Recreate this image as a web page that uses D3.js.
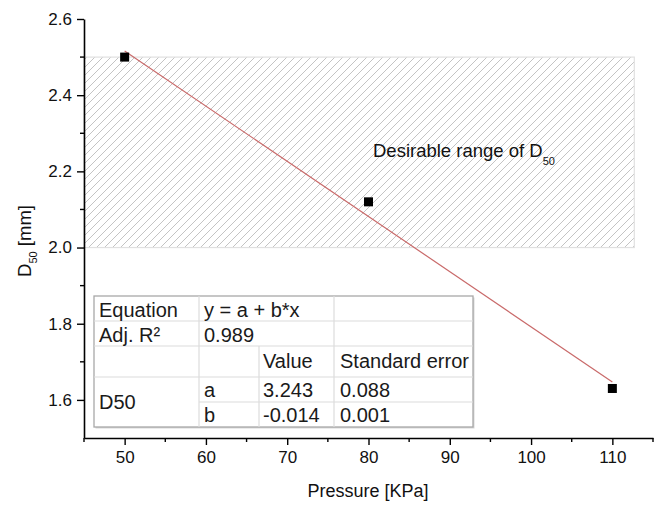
<!DOCTYPE html>
<html>
<head>
<meta charset="utf-8">
<script src="https://cdn.jsdelivr.net/npm/d3@7"></script>
<style>
  html, body { margin: 0; padding: 0; background: #fff; }
  svg { display: block; font-family: Arial, "Liberation Sans", sans-serif; }
</style>
</head>
<body>
<svg id="chart" width="659" height="509"></svg>
<script>
// ---- data ----
const pressure = [50, 80, 110];
const d50 = [2.5, 2.12, 1.63];
const fitX = [50, 110];
const fitY = [2.516, 1.647];
const desirableY = [2.0, 2.5];
const desirableX = [45, 112.7];
const xTicks = [50, 60, 70, 80, 90, 100, 110];
const xMinorTicks = [45, 55, 65, 75, 85, 95, 105, 115];
const yTicks = [1.6, 1.8, 2.0, 2.2, 2.4, 2.6];
const yMinorTicks = [1.7, 1.9, 2.1, 2.3, 2.5];
const tableRow1 = ["Equation", "y = a + b*x"];
const tableRow2 = ["Adj. R²", "0.989"];
const tableHeader = ["Value", "Standard error"];
const tableParams = ["a", "b"];
const tableValues = ["3.243", "-0.014"];
const tableErrors = ["0.088", "0.001"];
const tableGroup = "D50";

// ---- layout ----
const svg = d3.select("#chart");
const x = d3.scaleLinear().domain([45, 115]).range([84, 653]);
const y = d3.scaleLinear().domain([1.5, 2.6]).range([438, 19]);

// hatch pattern
const defs = svg.append("defs");
const pat = defs.append("pattern")
  .attr("id", "hatch").attr("patternUnits", "userSpaceOnUse")
  .attr("width", 8).attr("height", 8);
pat.append("path")
  .attr("d", "M-2,2 l4,-4 M0,8 l8,-8 M6,10 l4,-4")
  .attr("stroke", "#c4c4c4").attr("stroke-width", 1);

// desirable range box
svg.append("rect")
  .attr("x", x(desirableX[0])).attr("y", y(desirableY[1]))
  .attr("width", x(desirableX[1]) - x(desirableX[0]))
  .attr("height", y(desirableY[0]) - y(desirableY[1]))
  .attr("fill", "url(#hatch)").attr("stroke", "#e0e0e0").attr("stroke-width", 1.2);

// annotation text
const ann = svg.append("text").attr("x", 373).attr("y", 157)
  .attr("font-size", 18.5).attr("fill", "#111");
ann.append("tspan").text("Desirable range of D");
ann.append("tspan").attr("dy", 8).attr("font-size", 11).text("50");

// fit line
svg.append("line")
  .attr("x1", x(fitX[0])).attr("y1", y(fitY[0]))
  .attr("x2", x(fitX[1])).attr("y2", y(fitY[1]))
  .attr("stroke", "#c96a6a").attr("stroke-width", 1.2);

// points
svg.selectAll("rect.pt").data(pressure).join("rect")
  .attr("class", "pt")
  .attr("x", (d) => x(d) - 4.5)
  .attr("y", (d, i) => y(d50[i]) - 4.5)
  .attr("width", 9).attr("height", 9).attr("fill", "#000");

// axes
const xAxis = d3.axisBottom(x).tickValues(xTicks).tickFormat(d3.format("d"))
  .tickSize(7).tickSizeOuter(0).tickPadding(6);
const gx = svg.append("g").attr("transform", `translate(0,${y(1.5)})`).call(xAxis);
gx.selectAll("text").attr("font-size", 17).attr("fill", "#111");
gx.select(".domain").attr("stroke-width", 1.6);
gx.selectAll(".tick line").attr("stroke-width", 1.4);
gx.selectAll("line.minor").data(xMinorTicks).join("line").attr("class", "minor")
  .attr("x1", (d) => x(d)).attr("x2", (d) => x(d)).attr("y1", 0).attr("y2", 4)
  .attr("stroke", "#000").attr("stroke-width", 1.4);

const yAxis = d3.axisLeft(y).tickValues(yTicks).tickFormat(d3.format(".1f"))
  .tickSize(7).tickSizeOuter(0).tickPadding(5);
const gy = svg.append("g").attr("transform", `translate(${x(45)},0)`).call(yAxis);
gy.selectAll("text").attr("font-size", 17).attr("fill", "#111");
gy.select(".domain").attr("stroke-width", 1.6);
gy.selectAll(".tick line").attr("stroke-width", 1.4);
gy.selectAll("line.minor").data(yMinorTicks).join("line").attr("class", "minor")
  .attr("y1", (d) => y(d)).attr("y2", (d) => y(d)).attr("x1", 0).attr("x2", -4)
  .attr("stroke", "#000").attr("stroke-width", 1.4);

// axis titles
svg.append("text").attr("x", 368).attr("y", 497).attr("text-anchor", "middle")
  .attr("font-size", 18).attr("fill", "#111").text("Pressure [KPa]");
const yl = svg.append("text")
  .attr("transform", "translate(31,241) rotate(-90)")
  .attr("text-anchor", "middle").attr("font-size", 18.5).attr("fill", "#111");
yl.append("tspan").text("D");
yl.append("tspan").attr("dy", 6).attr("font-size", 11).text("50");
yl.append("tspan").attr("dy", -6).text(" [mm]");

// ---- fit table ----
const colX = [94, 199, 259, 334, 473];
const rowY = [296, 321, 346, 377, 402, 427];
const tg = svg.append("g");
tg.append("rect").attr("x", colX[0] + 1.5).attr("y", rowY[0] + 1.5)
  .attr("width", colX[4] - colX[0]).attr("height", rowY[5] - rowY[0])
  .attr("fill", "#d8d8d8");
tg.append("rect").attr("x", colX[0]).attr("y", rowY[0])
  .attr("width", colX[4] - colX[0]).attr("height", rowY[5] - rowY[0])
  .attr("fill", "#fff").attr("stroke", "#a8a8a8").attr("stroke-width", 1.3);
const gridLines = [
  [colX[0], rowY[1], colX[4], rowY[1]],
  [colX[0], rowY[2], colX[4], rowY[2]],
  [colX[0], rowY[3], colX[4], rowY[3]],
  [colX[1], rowY[4], colX[4], rowY[4]],
  [colX[1], rowY[0], colX[1], rowY[5]],
  [colX[3], rowY[0], colX[3], rowY[5]],
  [colX[2], rowY[2], colX[2], rowY[5]]
];
tg.selectAll("line").data(gridLines).join("line")
  .attr("x1", (d) => d[0]).attr("y1", (d) => d[1])
  .attr("x2", (d) => d[2]).attr("y2", (d) => d[3])
  .attr("stroke", "#dcdcdc").attr("stroke-width", 1.2);

const cells = [
  [tableRow1[0], colX[0] + 5, 317], [tableRow1[1], colX[1] + 5, 317],
  [tableRow2[0], colX[0] + 5, 342], [tableRow2[1], colX[1] + 5, 342],
  [tableHeader[0], colX[2] + 4, 368], [tableHeader[1], colX[3] + 6, 368],
  [tableGroup, colX[0] + 5, 409],
  [tableParams[0], colX[1] + 5, 397], [tableValues[0], colX[2] + 4, 397], [tableErrors[0], colX[3] + 6, 397],
  [tableParams[1], colX[1] + 5, 422], [tableValues[1], colX[2] + 4, 422], [tableErrors[1], colX[3] + 6, 422]
];
tg.selectAll("text").data(cells).join("text")
  .attr("x", (d) => d[1]).attr("y", (d) => d[2])
  .attr("font-size", 20).attr("fill", "#1a1a1a").text((d) => d[0]);
</script>
</body>
</html>
